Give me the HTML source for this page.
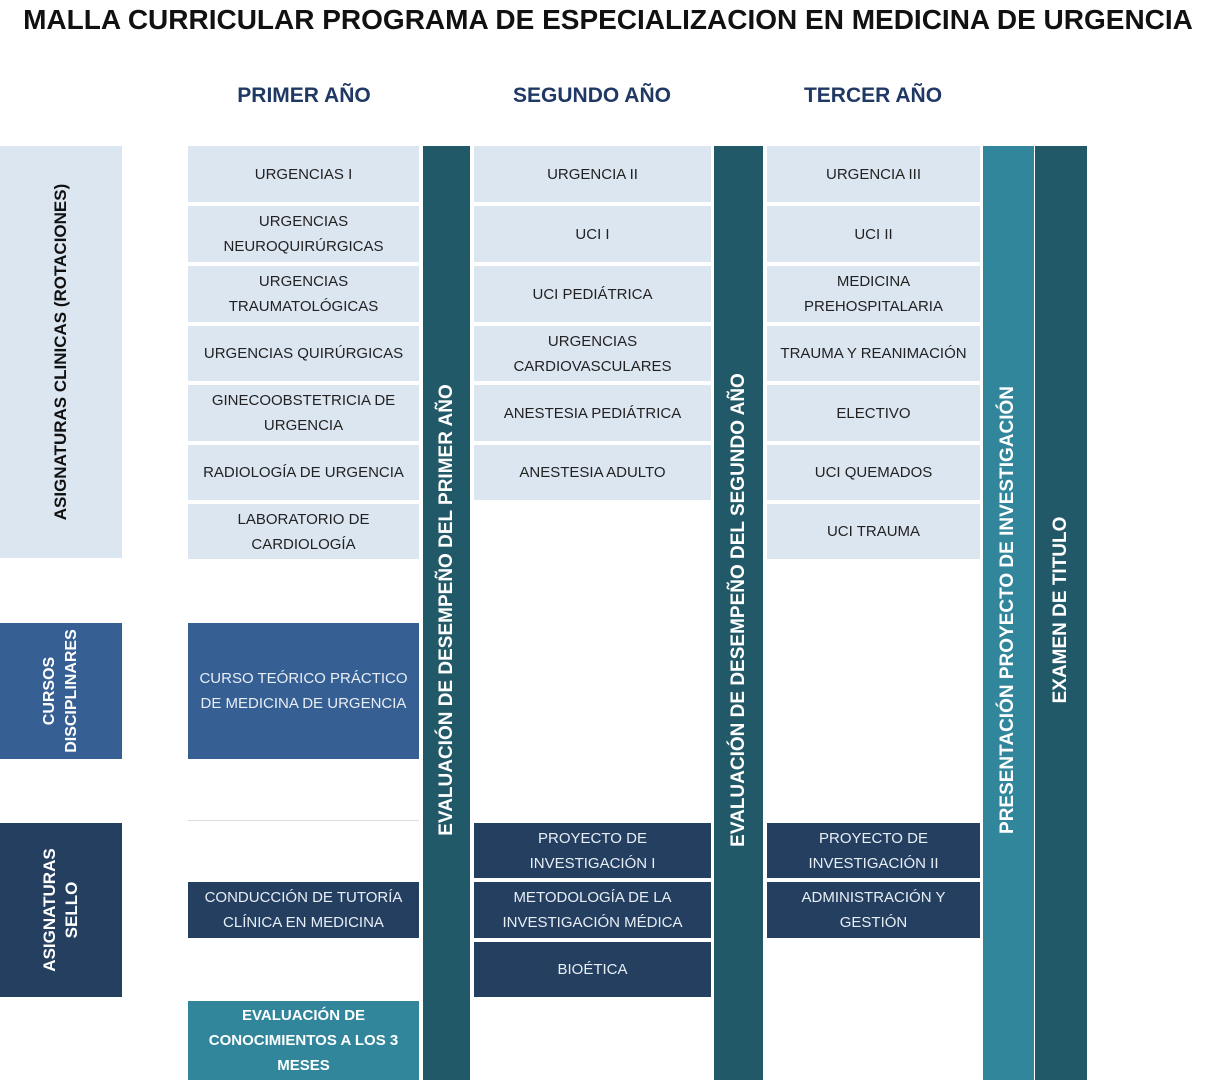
<!DOCTYPE html>
<html><head><meta charset="utf-8"><style>
body{margin:0;width:1216px;height:1080px;background:#fff;position:relative;overflow:hidden;font-family:"Liberation Sans",sans-serif}
.a{position:absolute;display:flex;align-items:center;justify-content:center;text-align:center;box-sizing:border-box;font-size:15px;line-height:25px}
.l{background:#dce6f1;color:#222}
.d{background:#243f60;color:#e8eef5}
.m{background:#365f93;color:#e8eef5}
.t{background:#31869b;color:#fff;font-weight:bold}
.b{background:#215968}
.v{position:absolute;white-space:nowrap;transform:translate(-50%,-50%) rotate(-90deg);font-weight:bold;color:#fff;font-size:19px}
.h{position:absolute;font-weight:bold;color:#1f3864;font-size:21px;transform:translateX(-50%);top:84px}
</style></head><body>
<div style="position:absolute;left:0;width:1216px;top:4px;text-align:center;font-weight:bold;font-size:28px;color:#111">MALLA CURRICULAR PROGRAMA DE ESPECIALIZACION EN MEDICINA DE URGENCIA</div>
<div class="h" style="left:304px">PRIMER AÑO</div>
<div class="h" style="left:592px">SEGUNDO AÑO</div>
<div class="h" style="left:873px">TERCER AÑO</div>

<div class="a l" style="left:0;top:146px;width:122px;height:412px"></div>
<div class="v" style="left:61px;top:352px;color:#111;font-size:17px">ASIGNATURAS CLINICAS (ROTACIONES)</div>
<div class="a m" style="left:0;top:623px;width:122px;height:136px"></div>
<div class="v" style="left:61px;top:691px;line-height:22px;text-align:center;font-size:16px">CURSOS<br>DISCIPLINARES</div>
<div class="a d" style="left:0;top:823px;width:122px;height:174px"></div>
<div class="v" style="left:61px;top:910px;line-height:22px;text-align:center;font-size:17px">ASIGNATURAS<br>SELLO</div>

<div class="a l" style="left:188px;top:146px;width:231px;height:56px">URGENCIAS I</div>
<div class="a l" style="left:188px;top:206px;width:231px;height:56px">URGENCIAS<br>NEUROQUIRÚRGICAS</div>
<div class="a l" style="left:188px;top:266px;width:231px;height:56px">URGENCIAS<br>TRAUMATOLÓGICAS</div>
<div class="a l" style="left:188px;top:326px;width:231px;height:55px">URGENCIAS QUIRÚRGICAS</div>
<div class="a l" style="left:188px;top:385px;width:231px;height:56px">GINECOOBSTETRICIA DE<br>URGENCIA</div>
<div class="a l" style="left:188px;top:445px;width:231px;height:55px">RADIOLOGÍA DE URGENCIA</div>
<div class="a l" style="left:188px;top:504px;width:231px;height:55px">LABORATORIO DE<br>CARDIOLOGÍA</div>
<div class="a m" style="left:188px;top:623px;width:231px;height:136px">CURSO TEÓRICO PRÁCTICO<br>DE MEDICINA DE URGENCIA</div>
<div style="position:absolute;left:188px;top:820px;width:231px;height:1px;background:#ddd"></div>
<div class="a d" style="left:188px;top:882px;width:231px;height:56px">CONDUCCIÓN DE TUTORÍA<br>CLÍNICA EN MEDICINA</div>
<div class="a t" style="left:188px;top:1001px;width:231px;height:79px">EVALUACIÓN DE<br>CONOCIMIENTOS A LOS 3<br>MESES</div>

<div class="b" style="position:absolute;left:423px;top:146px;width:47px;height:934px"></div>
<div class="v" style="left:447px;top:610px">EVALUACIÓN DE DESEMPEÑO DEL PRIMER AÑO</div>

<div class="a l" style="left:474px;top:146px;width:237px;height:56px">URGENCIA II</div>
<div class="a l" style="left:474px;top:206px;width:237px;height:56px">UCI I</div>
<div class="a l" style="left:474px;top:266px;width:237px;height:56px">UCI PEDIÁTRICA</div>
<div class="a l" style="left:474px;top:326px;width:237px;height:55px">URGENCIAS<br>CARDIOVASCULARES</div>
<div class="a l" style="left:474px;top:385px;width:237px;height:56px">ANESTESIA PEDIÁTRICA</div>
<div class="a l" style="left:474px;top:445px;width:237px;height:55px">ANESTESIA ADULTO</div>
<div class="a d" style="left:474px;top:823px;width:237px;height:55px">PROYECTO DE<br>INVESTIGACIÓN I</div>
<div class="a d" style="left:474px;top:882px;width:237px;height:56px">METODOLOGÍA DE LA<br>INVESTIGACIÓN MÉDICA</div>
<div class="a d" style="left:474px;top:942px;width:237px;height:55px">BIOÉTICA</div>

<div class="b" style="position:absolute;left:714px;top:146px;width:49px;height:934px"></div>
<div class="v" style="left:739px;top:610px">EVALUACIÓN DE DESEMPEÑO DEL SEGUNDO AÑO</div>

<div class="a l" style="left:767px;top:146px;width:213px;height:56px">URGENCIA III</div>
<div class="a l" style="left:767px;top:206px;width:213px;height:56px">UCI II</div>
<div class="a l" style="left:767px;top:266px;width:213px;height:56px">MEDICINA<br>PREHOSPITALARIA</div>
<div class="a l" style="left:767px;top:326px;width:213px;height:55px">TRAUMA Y REANIMACIÓN</div>
<div class="a l" style="left:767px;top:385px;width:213px;height:56px">ELECTIVO</div>
<div class="a l" style="left:767px;top:445px;width:213px;height:55px">UCI QUEMADOS</div>
<div class="a l" style="left:767px;top:504px;width:213px;height:55px">UCI TRAUMA</div>
<div class="a d" style="left:767px;top:823px;width:213px;height:55px">PROYECTO DE<br>INVESTIGACIÓN II</div>
<div class="a d" style="left:767px;top:882px;width:213px;height:56px">ADMINISTRACIÓN Y<br>GESTIÓN</div>

<div style="position:absolute;left:983px;top:146px;width:51px;height:934px;background:#31869b"></div>
<div class="v" style="left:1008px;top:610px">PRESENTACIÓN PROYECTO DE INVESTIGACIÓN</div>
<div class="b" style="position:absolute;left:1035px;top:146px;width:52px;height:934px"></div>
<div class="v" style="left:1061px;top:610px">EXAMEN DE TITULO</div>
</body></html>
